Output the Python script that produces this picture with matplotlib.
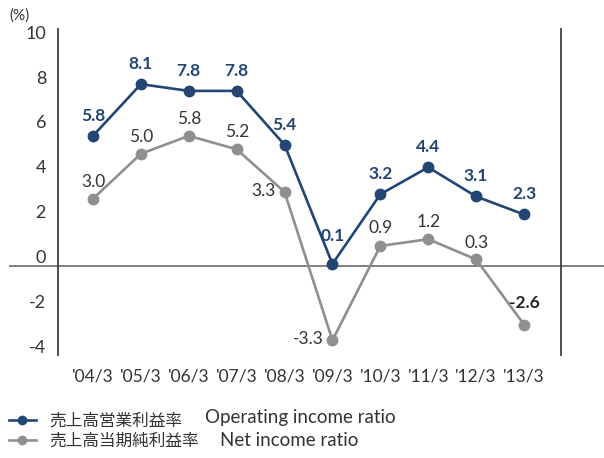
import matplotlib
matplotlib.use("Agg")
import matplotlib.pyplot as plt

plt.rcParams['font.family'] = ['Lato', 'Noto Sans CJK JP', 'DejaVu Sans']

categories = ["'04/3", "'05/3", "'06/3", "'07/3", "'08/3", "'09/3", "'10/3", "'11/3", "'12/3", "'13/3"]
operating = [5.8, 8.1, 7.8, 7.8, 5.4, 0.1, 3.2, 4.4, 3.1, 2.3]
net = [3.0, 5.0, 5.8, 5.2, 3.3, -3.3, 0.9, 1.2, 0.3, -2.6]
yticks = [10, 8, 6, 4, 2, 0, -2, -4]
series_jp = ["売上高営業利益率", "売上高当期純利益率"]
series_en = ["Operating income ratio", "Net income ratio"]

BLUE = "#234574"
GRAY = "#8f8f8f"
TXT = "#333333"

W, H = 604, 458
fig = plt.figure(figsize=(W / 100, H / 100), dpi=100)
# axes from px x 9..604, y 28..356
ax = fig.add_axes([9 / W, 1 - 356 / H, (604 - 9) / W, (356 - 28) / H])
x = list(range(len(categories)))
ax.set_xlim(-1.754, 10.67)
ax.set_ylim(-4, 10.6)
for s in ax.spines.values():
    s.set_visible(False)
ax.set_xticks([])
ax.set_yticks([])
ax.patch.set_alpha(0)

ax.axhline(0, color="#6e6a68", lw=1.2, zorder=1)
ax.axvline(-0.73, color="#3a2f2c", lw=1.2, zorder=1)
ax.axvline(9.77, color="#3a2f2c", lw=1.2, zorder=1)

l2, = ax.plot(x, net, color=GRAY, lw=1.9, marker='o', ms=7.5, zorder=3)
l1, = ax.plot(x, operating, color=BLUE, lw=1.9, marker='o', ms=7.5, zorder=4)

for v in yticks:
    ax.text(-0.98, v + 0.35, str(v), ha='right', va='center', fontsize=13, color=TXT)
for i, c in enumerate(categories):
    ax.text(i, -4.93, c, ha='center', va='center', fontsize=12.5, color=TXT, clip_on=False)
fig.text(19 / W, 1 - 16 / H, "(%)", ha='center', va='center', fontsize=11, color=TXT)

# operating labels
op_off = [(0, 0.9)] * 10
op_off[5] = (0, 1.25)
for i, v in enumerate(operating):
    dx, dy = op_off[i]
    ax.text(i + dx, v + dy, f"{v:.1f}", ha='center', va='center', fontsize=12.5,
            color=BLUE, fontweight='bold')

net_off = [(0, 0.75), (0, 0.75), (0, 0.75), (0, 0.75), (-0.45, 0.05), (-0.5, 0.05),
           (0, 0.8), (0, 0.75), (0, 0.75), (0, 0.95)]
for i, v in enumerate(net):
    dx, dy = net_off[i]
    ax.text(i + dx, v + dy, f"{v:.1f}", ha='center', va='center', fontsize=12.5,
            color=("#222222" if i == 9 else TXT), fontweight=('bold' if i == 9 else 'normal'))

fig.legend([l1, l2], series_jp, loc='upper left', bbox_to_anchor=(9 / W, 1 - 413 / H),
           frameon=False, fontsize=12, handlelength=1.6, handletextpad=0.8,
           labelspacing=0.22, borderaxespad=0, borderpad=0, markerscale=0.8, labelcolor=TXT)
fig.text(205 / W, 1 - 418 / H, series_en[0], ha='left', va='center', fontsize=13.5, color=TXT)
fig.text(220 / W, 1 - 440 / H, series_en[1], ha='left', va='center', fontsize=13.5, color=TXT)

fig.savefig("out.png", dpi=100)
